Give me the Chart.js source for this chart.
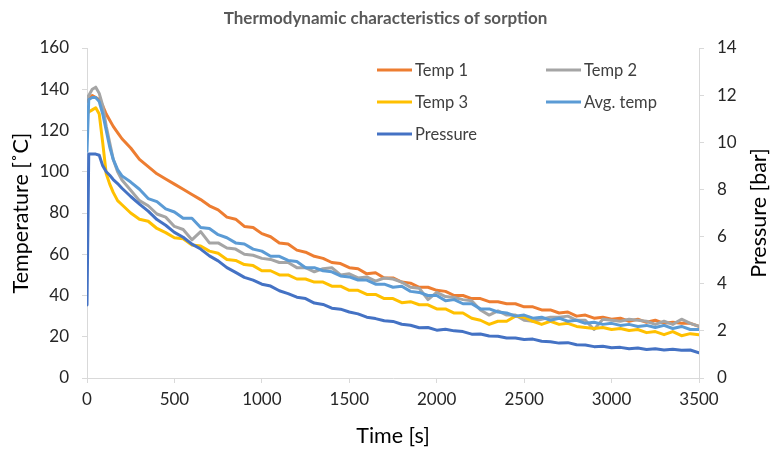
<!DOCTYPE html>
<html><head><meta charset="utf-8">
<script src="https://cdn.jsdelivr.net/npm/chart.js@4.4.0/dist/chart.umd.min.js"></script>
<style>html,body{margin:0;padding:0;background:#fff;}#wrap{width:771px;height:449px;}</style>
</head><body><div id="wrap"><canvas id="c" width="771" height="449"></canvas></div>
<script>
const times = [0,10,30,50,70,90,110,130,150,175,200,
250,300,350,400,450,500,550,600,650,700,
750,800,850,900,950,1000,1050,1100,1150,1200,
1250,1300,1350,1400,1450,1500,1550,1600,1650,1700,
1750,1800,1850,1900,1950,2000,2050,2100,2150,2200,
2250,2300,2350,2400,2450,2500,2550,2600,2650,2700,
2750,2800,2850,2900,2950,3000,3050,3100,3150,3200,
3250,3300,3350,3400,3450,3500];
const temp1 = [134,135,137,136,135,132,128,125,122,119,116,
111.5,106,102.5,99,96.5,94,91.5,89,86.5,83.5,
81.5,78,77,73.5,73,70,68.5,65.5,65,62,
61,59,58,56,55.5,53.5,53,50.5,51,48.5,
48.5,46.5,46,44,44,42.5,42,40,40,38.5,
38.5,37,37,36,36,34.5,34.5,33,33,31.5,
32,30,30.5,29,29.5,28.5,29,27.5,28.5,27,
28,26.5,27,26.5,26.5,25];
const temp2 = [136,137,140,141,138,132,122,114,106,100,96,
91,86,83.5,79.5,78,73.5,72,67,71,65.5,
65.5,63,62.5,60,59.5,58,57.5,56,56,53.5,
53.5,51.5,53,53.5,50,50.5,48.5,49,47,48.5,
48,46.5,44,43.5,38,41.5,39.5,39,38,37.5,
33,30.5,32.5,30.5,30.5,28,27.5,28.5,29.5,29.5,
30,28,28,23.5,28.5,28,27.5,28.5,28,27.5,
26,27.5,26,28.5,26.5,25];
const temp3 = [128,129,130,131,128,114,99,94,90,86,84,
80,77,76,72.5,70.5,68,67.5,64.5,64,61.5,
60.5,57.5,57,55,54.5,52,52,50,50,48,
48,46.5,46.5,44.5,44.5,42.5,42.5,40.5,40.5,38.5,
38.5,36.5,37,35.5,35.5,33.5,33.5,31.5,31.5,29,
28,26,27.5,27.5,30,29.5,27.5,26,27.5,26,
26.5,25,24.5,24,24.5,23.5,24,23,23.5,22,
22.5,21,22.5,20.5,21.5,21];
const avgTemp = [110,135,136,136,134,128,120,112,106,101,98,
95,91.5,87,85.5,82,80.5,77.5,77.5,73,72.5,
69.5,68,65.5,65,62.5,61.5,59,59,57,56.5,
53.5,53.5,52,51.5,49.5,49,47.5,47.5,45.5,45.5,
44,44.5,42,41.5,40,40,37.5,38,36,36,
33.5,33.5,32,31.5,30,30.5,29,29.5,28,29,
27.5,28,26.5,27,26,26.5,25.5,26,25,25.5,
24.5,25.5,24,25,23.5,23.5];
const pressure = [3.1,9.5,9.5,9.5,9.45,9.0,8.75,8.6,8.42,8.25,8.05,
7.7,7.38,7.08,6.72,6.48,6.18,5.97,5.68,5.47,5.18,
4.97,4.68,4.48,4.27,4.15,3.98,3.9,3.7,3.58,3.43,
3.37,3.18,3.12,2.96,2.92,2.8,2.72,2.58,2.52,2.43,
2.4,2.28,2.24,2.13,2.14,2.03,2.07,2.0,1.97,1.86,
1.87,1.78,1.77,1.7,1.7,1.63,1.65,1.56,1.54,1.48,
1.5,1.41,1.4,1.33,1.35,1.28,1.3,1.24,1.27,1.21,
1.24,1.19,1.22,1.18,1.19,1.07];
const xTicks = [0,500,1000,1500,2000,2500,3000,3500];
const tempTicks = [0,20,40,60,80,100,120,140,160];
const pressTicks = [0,2,4,6,8,10,12,14];
const seriesNames = ['Temp 1','Temp 2','Temp 3','Avg. temp','Pressure'];

const FONT = 'Lato';
const AXIS = '#D9D9D9';
const pts = arr => times.map((t,i)=>({x:t,y:arr[i]}));
const setTicks = vals => (s => { s.ticks = vals.map(v=>({value:v})); });
const plain = v => String(v);

const xlLegend = {
  id:'xlLegend',
  afterDraw(chart){
    const ctx = chart.ctx, ca = chart.chartArea;
    const cols = [ca.left+290, ca.left+459];
    const rows = [ca.top+22, ca.top+54, ca.top+86];
    ctx.save();
    ctx.font = '16.5px ' + FONT;
    ctx.textBaseline = 'middle';
    ctx.textAlign = 'left';
    chart.data.datasets.forEach((d,i)=>{
      const cx = cols[i%2], cy = rows[Math.floor(i/2)];
      ctx.strokeStyle = d.borderColor; ctx.lineWidth = 3; ctx.lineCap='butt';
      ctx.beginPath(); ctx.moveTo(cx,cy); ctx.lineTo(cx+35,cy); ctx.stroke();
      ctx.fillStyle = '#404040';
      ctx.fillText(d.label, cx+38, cy+1);
    });
    ctx.restore();
  }
};
const rightTitle = {
  id:'rightTitle',
  afterDraw(chart){
    const ctx = chart.ctx, s = chart.scales.y2;
    ctx.save();
    ctx.translate(759, (s.top+s.bottom)/2);
    ctx.rotate(-Math.PI/2);
    ctx.textAlign='center'; ctx.textBaseline='middle';
    ctx.font = '21.5px ' + FONT; ctx.fillStyle = '#000';
    ctx.fillText('Pressure [bar]', 0, 0);
    ctx.restore();
  }
};

const colors = ['#ED7D31','#A5A5A5','#FFC000','#5B9BD5','#4472C4'];
const series = [temp1,temp2,temp3,avgTemp,pressure];
new Chart(document.getElementById('c'), {
  type:'line',
  data:{ datasets: series.map((arr,i)=>({
    label: seriesNames[i], data: pts(arr), borderColor: colors[i], backgroundColor: colors[i],
    yAxisID: i===4 ? 'y2' : 'y', order: 5-i, fill:false
  }))},
  options:{
    responsive:false, animation:false, devicePixelRatio:1,
    elements:{ point:{radius:0}, line:{borderWidth:3, tension:0, borderJoinStyle:'round', borderCapStyle:'round'} },
    layout:{ padding:0 },
    plugins:{
      legend:{display:false}, tooltip:{enabled:false},
      title:{display:true, text:'Thermodynamic characteristics of sorption', color:'#595959',
        font:{family:FONT, size:17, weight:'bold'}, padding:{top:8,bottom:19.6}}
    },
    scales:{
      x:{ type:'linear', min:0, max:3500, afterBuildTicks: setTicks(xTicks),
        afterFit: s=>{ s.height = 71; },
        grid:{drawOnChartArea:false, drawTicks:true, tickLength:5, color:AXIS},
        border:{display:true, color:AXIS},
        ticks:{color:'#262626', font:{family:FONT,size:17}, padding:6, maxRotation:0, callback:plain},
        title:{display:true, text:'Time [s]', color:'#000', font:{family:FONT,size:21.5}, padding:{top:0,bottom:0}} },
      y:{ position:'left', min:0, max:160, afterBuildTicks: setTicks(tempTicks),
        afterFit: s=>{ s.width = 87; },
        grid:{drawOnChartArea:false, drawTicks:true, tickLength:5, color:AXIS},
        border:{display:true, color:AXIS},
        ticks:{color:'#262626', font:{family:FONT,size:17}, padding:13, callback:plain},
        title:{display:true, text:'Temperature [˚C]', color:'#000', font:{family:FONT,size:21.5}, padding:{top:8,bottom:0}} },
      y2:{ position:'right', min:0, max:14, afterBuildTicks: setTicks(pressTicks),
        afterFit: s=>{ s.width = 72; },
        grid:{drawOnChartArea:false, drawTicks:true, tickLength:5, color:AXIS},
        border:{display:true, color:AXIS},
        ticks:{color:'#262626', font:{family:FONT,size:17}, padding:13, callback:plain} }
    }
  },
  plugins:[xlLegend, rightTitle]
});
</script></body></html>
